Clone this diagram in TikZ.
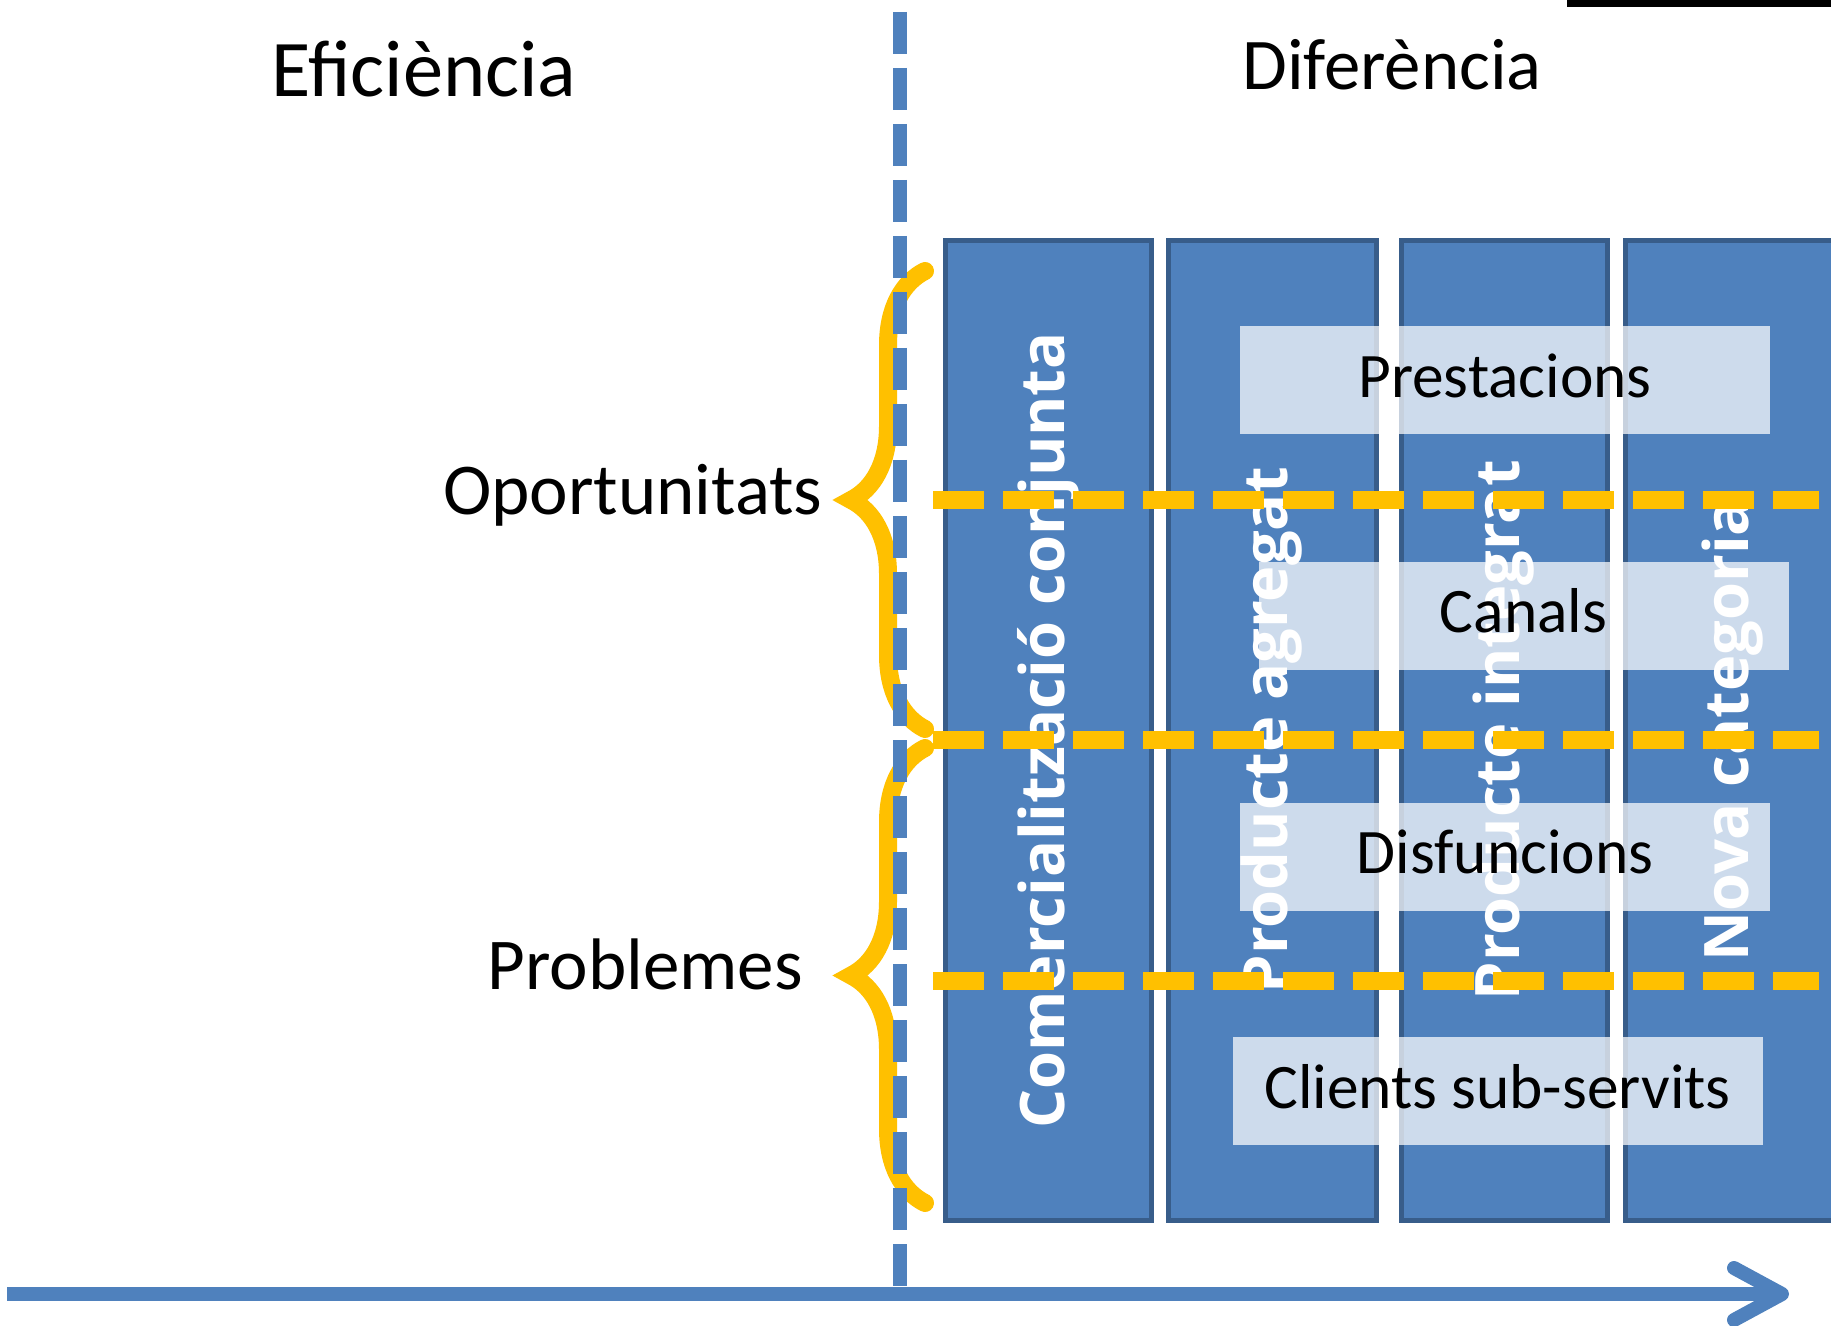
\documentclass[tikz,border=0pt]{standalone}
\usepackage{fontspec}
\setmainfont{Carlito}
\newfontfamily\colfont{Open Sans}
\usetikzlibrary{arrows.meta,decorations.pathreplacing}
\definecolor{officeblue}{HTML}{4F81BD}
\definecolor{darkblue}{HTML}{385D8A}
\definecolor{gold}{HTML}{FFC000}

\begin{document}
\begin{tikzpicture}[x=0.5pt, y=-0.5pt,
  every node/.style = {inner sep=0pt, text=black},
  column/.style = {rotate=90, draw=darkblue, line width=2.5pt, fill=officeblue,
    minimum width=490pt, text=white, font=\colfont\bfseries\fontsize{30.7}{33}\selectfont},
  band/.style = {fill=white, fill opacity=0.72, text opacity=1,
    text height=20pt, text depth=3pt,
    minimum width=265pt, minimum height=54pt, font=\fontsize{31.7}{34}\selectfont},
  big/.style = {font=\fontsize{36.5}{40}\selectfont}]
  \tikzstyle{bracket}=[draw=gold, line width=9pt, line cap=round, decorate,
    decoration={brace, amplitude=37pt}]
  \tikzstyle{guide}=[draw=gold, line width=8.7pt, dash pattern=on 25.6pt off 9.4pt]
  \tikzstyle{axis}=[draw=officeblue, line width=7pt]
  \useasboundingbox (0,0) rectangle (1831,1326);
  \fill (1567,0) rectangle (1831,7);

  % the four columns
  \node[column, minimum height=103pt] (c1) at (1048.6,730.3) {Comercialització conjunta};
  \node[column, minimum height=104pt] (c2) at (1272,730.3) {Producte agregat};
  \node[column, minimum height=103pt] (c3) at (1504,730.3) {Producte integrat};
  \node[column, minimum height=108pt] (c4) at (1733,730.3) {Nova categoria};

  % the four bands across them
  \node[band] (prest) at (1505,380.5) {Prestacions};
  \node[band] (canals) at (1523.5,615.5) {Canals};
  \node[band] (disf) at (1505,856.8) {Disfuncions};
  \node[band] (clients) at (1497.5,1091.3) {Clients sub-servits};

  \foreach \y in {500,740,981}
    \draw[guide] (933,\y) -- (1819,\y);

  % braces
  \coordinate (o1) at (925,271);
  \coordinate (o2) at (925,729);
  \coordinate (p1) at (925,748);
  \coordinate (p2) at (925,1203);
  \draw[bracket] (o2) -- (o1);
  \draw[bracket] (p2) -- (p1);

  % axes
  \coordinate (top) at (900,12);
  \coordinate (bottom) at (900,1287);
  \coordinate (origin) at (7,1294);
  \coordinate (tip) at (1789,1294);
  \draw[axis, dash pattern=on 21pt off 7pt] (top) -- (bottom);
  \draw[axis, -{Straight Barb[length=24pt, width=26pt, round]}] (origin) -- (tip);

  \node[font=\fontsize{40.2}{43}\selectfont, anchor=base] (eff) at (424,97) {Eficiència};
  \node[font=\fontsize{36.4}{39}\selectfont, anchor=base] (dif) at (1392,90) {Diferència};
  \node[big, anchor=base east] (opo) at (823,514) {Oportunitats};
  \node[big, anchor=base east] (prob) at (803,989) {Problemes};
\end{tikzpicture}
\end{document}
